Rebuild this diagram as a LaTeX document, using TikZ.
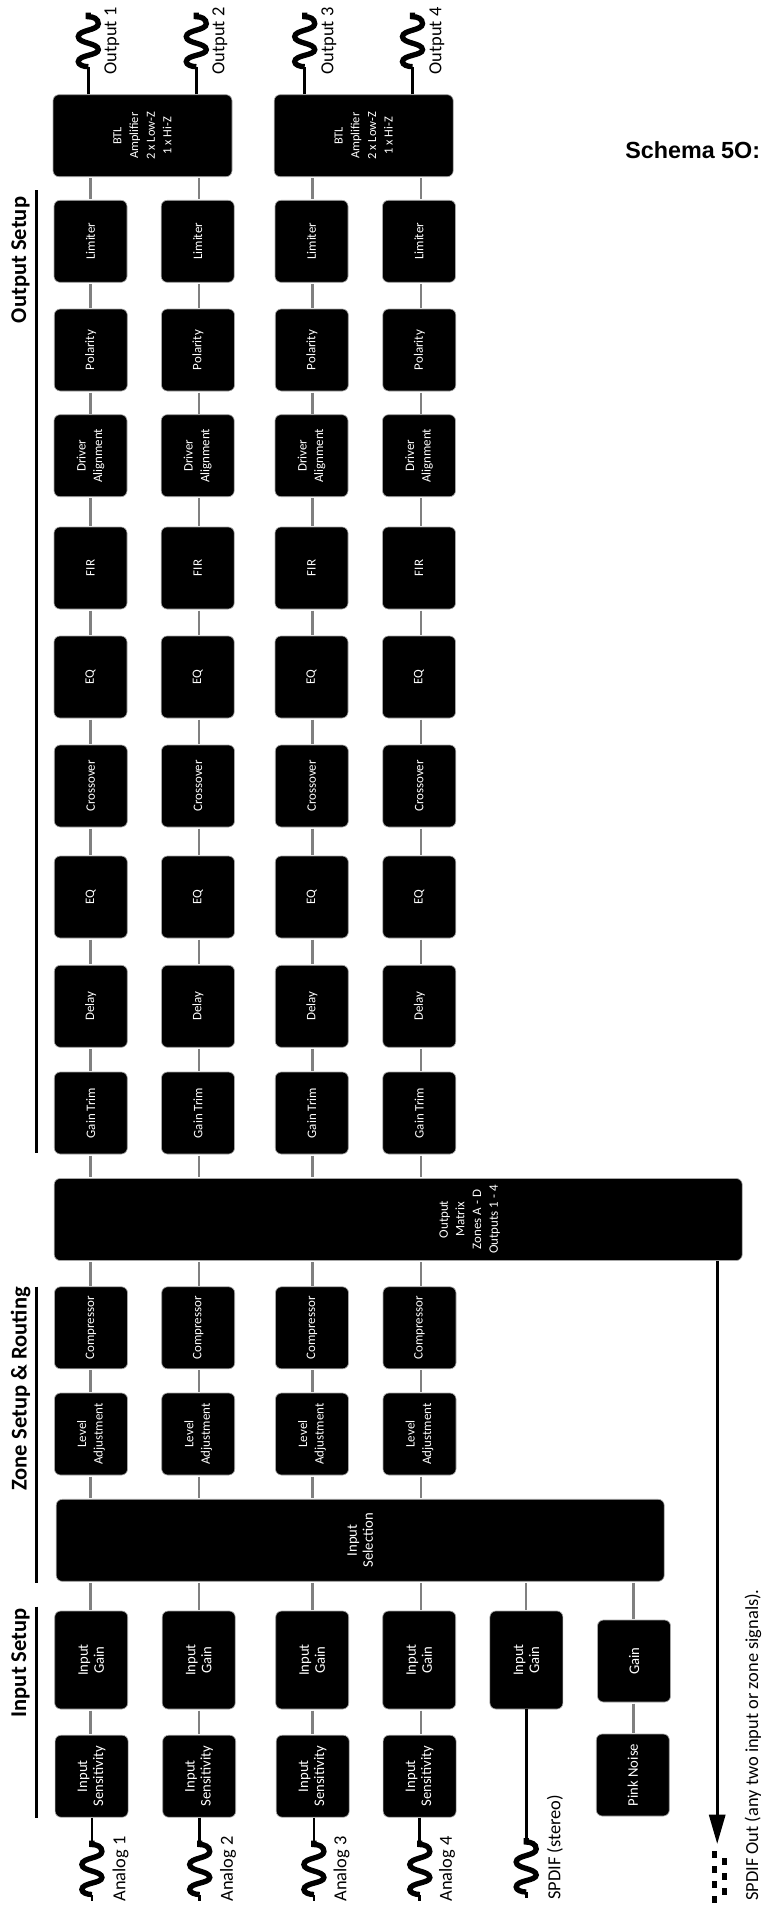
\documentclass[tikz,border=0pt]{standalone}
\usepackage{fontspec}
\setmainfont{Carlito}
\newfontfamily\schemafont{Liberation Sans}
\usetikzlibrary{arrows.meta}

\begin{document}
\begin{tikzpicture}[x=0.75pt, y=-0.75pt, >={Triangle[length=22pt,width=12pt]}]
  \tikzstyle{sigbox}=[rotate=90, draw=gray!70, line width=0.5pt, fill=black, rounded corners=4.5pt, text=white, align=center, inner sep=0pt, minimum width=61.5pt, minimum height=54.75pt, font=\fontsize{9.7}{12.5}\selectfont]
  \tikzstyle{wide}=[font=\fontsize{11}{12}\selectfont]
  \tikzstyle{link}=[draw=gray, line width=1.8pt, shorten >=0.6pt, shorten <=0.9pt]
  \tikzstyle{cable}=[draw=black, line width=2pt]
  \tikzstyle{tag}=[rotate=90, inner sep=0pt, font=\fontsize{13.8}{15}\selectfont]
  \tikzstyle{section}=[rotate=90, inner sep=0pt, font=\fontsize{16.9}{18}\selectfont\bfseries]
  \tikzstyle{rulebar}=[draw=black, line width=1.7pt]
  \tikzset{wiggle/.pic={
    \draw[line width=4pt] (0,0) -- (0,4) .. controls (5,4) and (10,6) .. (10,11)
      .. controls (10,18) and (-10,17) .. (-10,24) .. controls (-10,31) and (10,30) .. (10,37)
      .. controls (10,43) and (-10,42) .. (-10,49) .. controls (-10,52) and (-5,54) .. (0,54);
  }}
  \useasboundingbox (0,0) rectangle (762,1905);

  \foreach \c/\xx in {1/90.4, 2/198.7, 3/312.6, 4/420.8, 5/525.8, 6/633.6}
    \coordinate (line\c) at (\xx,0);

  \foreach \nm/\txt/\yy/\dx in {lim/Limiter/241.3/0, pol/Polarity/350/0.3, dal/{Driver\\Alignment}/455.7/0, fir/FIR/568/0, eqa/EQ/677/0, xov/Crossover/786/0.3, eqb/EQ/897/0.3, dly/Delay/1006.3/0.3, trm/{Gain Trim}/1113/0.3, cmp/Compressor/1327.8/0.5, lvl/{Level\\Adjustment}/1434/0.5}
    \foreach \c/\xx in {1/90.5, 2/197.7, 3/311.5, 4/419}
      \node[sigbox] (\nm\c) at (\xx+\dx,\yy) {\txt};

  \node[sigbox, minimum height=134.25pt, font=\fontsize{9.3}{12.5}\selectfont] (btla) at (142.5,135.7) {BTL\\Amplifier\\2 x Low-Z\\1 x Hi-Z};
  \node[sigbox, minimum height=134.25pt, font=\fontsize{9.3}{12.5}\selectfont] (btlb) at (363.7,135.7) {BTL\\Amplifier\\2 x Low-Z\\1 x Hi-Z};
  \node[sigbox, minimum height=516pt] (matrix) at (398.2,1219.5) {};
  \node[rotate=90, text=white, align=center, inner sep=0pt, font=\fontsize{9.7}{12.5}\selectfont] (matrixtxt) at (469.6,1219.5) {Output\\Matrix\\Zones A - D\\Outputs 1 - 4};
  \node[sigbox, minimum height=456pt, wide] (sel) at (360.2,1540.3) {Input\\Selection};

  \foreach \c/\xx in {1/91.2, 2/198.7, 3/312.2, 4/419.2, 5/526.4}
    \node[sigbox, minimum width=73.5pt, wide] (ign\c) at (\xx,1660) {Input\\Gain};
  \foreach \c/\xx in {1/91.6, 2/199.2, 3/312.7, 4/419.6}
    \node[sigbox, wide] (sns\c) at (\xx,1776.2) {Input\\Sensitivity};
  \node[sigbox, wide] (gain) at (634,1661) {Gain};
  \node[sigbox, wide] (noise) at (632.8,1775) {Pink Noise};

  \foreach \c in {1,2,3,4} {
    \foreach \a/\b in {lim/pol, pol/dal, dal/fir, fir/eqa, eqa/xov, xov/eqb, eqb/dly, dly/trm, cmp/lvl, ign/sns}
      \draw[link] (\a\c.west -| line\c) -- (\b\c.east -| line\c);
    \draw[link] (trm\c.west -| line\c) -- (matrix.east -| line\c);
    \draw[link] (matrix.west -| line\c) -- (cmp\c.east -| line\c);
    \draw[link] (lvl\c.west -| line\c) -- (sel.east -| line\c);
    \draw[link] (sel.west -| line\c) -- (ign\c.east -| line\c);
  }
  \foreach \c/\amp in {1/btla, 2/btla, 3/btlb, 4/btlb}
    \draw[link] (\amp.west -| line\c) -- (lim\c.east -| line\c);
  \draw[link] (sel.west -| line5) -- (ign5.east -| line5);
  \draw[link] (sel.west -| line6) -- (gain.east -| line6);
  \draw[link] (gain.west -| line6) -- (noise.east -| line6);

  \foreach \c/\xx/\amp/\lx in {1/88.3/btla/111.8, 2/196.3/btla/220, 3/304.7/btlb/329, 4/412.5/btlb/437} {
    \pic at (\xx,12.7) {wiggle};
    \coordinate (out\c) at (\xx,66.7);
    \draw[cable] (\amp.east -| out\c) -- (out\c);
    \node[tag] (outlbl\c) at (\lx,41) {Output \c};
  }
  \foreach \c/\xx/\lx in {1/91.9/120.5, 2/199.7/228, 3/313.9/341.6, 4/419.8/447} {
    \pic at (\xx,1840.5) {wiggle};
    \coordinate (ana\c) at (\xx,1840.5);
    \coordinate (anaend\c) at (\xx,1900.7);
    \draw[cable] (sns\c.west -| ana\c) -- (ana\c);
    \draw[cable] (ana\c |- 0,1894.5) -- (anaend\c);
    \node[tag] (analbl\c) at (\lx,1869) {Analog \c};
  }
  \pic at (526.2,1838) {wiggle};
  \coordinate (spdif) at (526.2,1838);
  \coordinate (spdifend) at (526.2,1898);
  \draw[cable] (ign5.west -| spdif) -- (spdif);
  \draw[cable] (spdif |- 0,1892) -- (spdifend);
  \node[tag, anchor=west] (spdiflbl) at (555,1900) {SPDIF (stereo)};

  \coordinate (outtip) at (717.2,1844);
  \draw[->, line width=2.3pt] (matrix.west -| outtip) -- (outtip);
  \coordinate (dasha) at (714.3,1851);
  \coordinate (dashb) at (714.3,1903);
  \coordinate (dashc) at (724.3,1858.3);
  \coordinate (dashd) at (724.3,1895);
  \draw[line width=3.5pt, dash pattern=on 5pt off 6.25pt] (dasha) -- (dashb);
  \draw[line width=3.5pt, dash pattern=on 5pt off 6.25pt] (dashc) -- (dashd);
  \node[tag, anchor=west] (outlbl) at (753,1901) {SPDIF Out (any two input or zone signals).};

  \foreach \nm/\ya/\yb in {outs/190/1153.3, zone/1286.7/1582.7, inps/1606.7/1817.7} {
    \coordinate (\nm a) at (36.4,\ya);
    \coordinate (\nm b) at (36.4,\yb);
    \draw[rulebar] (\nm a) -- (\nm b);
  }
  \node[section, anchor=east] (outsec) at (20.5,196.7) {Output Setup};
  \node[section, anchor=east] (zonesec) at (20.5,1287) {Zone Setup \& Routing};
  \node[section, anchor=east] (inpsec) at (20.5,1608) {Input Setup};

  \node[inner sep=0pt, anchor=west, font=\schemafont\fontsize{17.5}{20}\selectfont\bfseries] (schema) at (625,150) {Schema 5O:};
\end{tikzpicture}
\end{document}
